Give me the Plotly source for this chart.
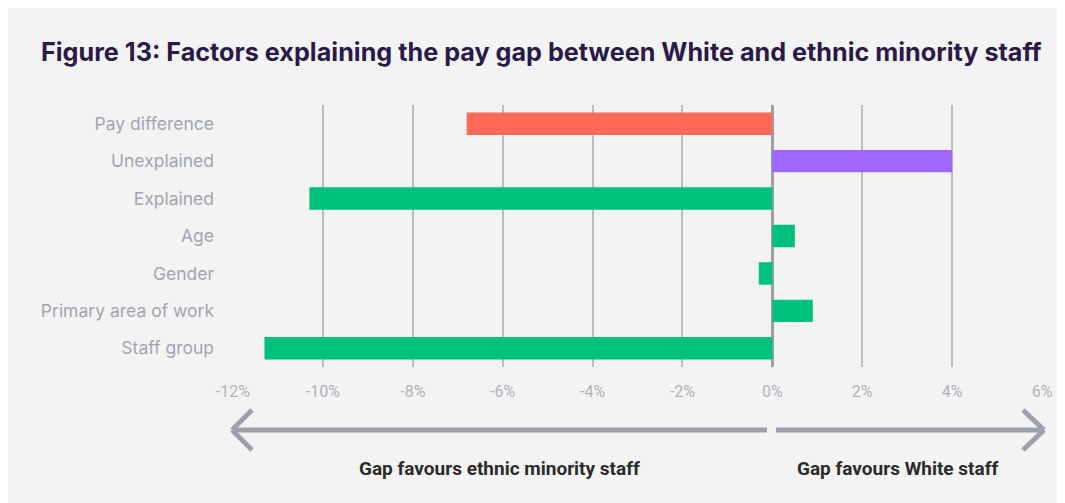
import plotly.graph_objects as go

categories = ["Pay difference", "Unexplained", "Explained", "Age", "Gender",
              "Primary area of work", "Staff group"]
values = [-6.8, 4.0, -10.3, 0.5, -0.3, 0.9, -11.3]
colors = ["#ff6a58", "#9f67fe", "#00c17b", "#00c17b", "#00c17b", "#00c17b", "#00c17b"]
tick_vals = [-12, -10, -8, -6, -4, -2, 0, 2, 4, 6]
tick_text = ["-12%", "-10%", "-8%", "-6%", "-4%", "-2%", "0%", "2%", "4%", "6%"]
title = "Figure 13: Factors explaining the pay gap between White and ethnic minority staff"
left_label = "Gap favours ethnic minority staff"
right_label = "Gap favours White staff"

W, H = 1065, 503
OX, OY = 8, 8  # page body margin offset
L, R, T, B = 233 - OX, 1042 - OX, 105 - OY, 367 - OY
PW, PH = R - L, B - T

def py(px):
    return (B - (px - OY)) / PH

def pxx(px):
    return ((px - OX) - L) / PW

BG = "#f3f3f3"
ARROW = "#9ea1ab"

fig = go.Figure(go.Bar(
    y=categories, x=values, orientation="h",
    marker=dict(color=colors, line=dict(width=0)),
    width=0.6,
))

arrow_y = py(430)
line_style = dict(color=ARROW, width=5)
shapes = [
    dict(type="line", xref="paper", yref="paper", x0=pxx(233), x1=pxx(767), y0=arrow_y, y1=arrow_y, line=line_style),
    dict(type="line", xref="paper", yref="paper", x0=pxx(232), x1=pxx(252), y0=arrow_y, y1=py(410), line=line_style),
    dict(type="line", xref="paper", yref="paper", x0=pxx(232), x1=pxx(252), y0=arrow_y, y1=py(450), line=line_style),
    dict(type="line", xref="paper", yref="paper", x0=pxx(776), x1=pxx(1043), y0=arrow_y, y1=arrow_y, line=line_style),
    dict(type="line", xref="paper", yref="paper", x0=pxx(1044), x1=pxx(1023), y0=arrow_y, y1=py(410), line=line_style),
    dict(type="line", xref="paper", yref="paper", x0=pxx(1044), x1=pxx(1023), y0=arrow_y, y1=py(450), line=line_style),
]

annotations = [
    dict(text=f"<b>{left_label}</b>", xref="paper", yref="paper", x=pxx(499), y=py(468),
         showarrow=False, font=dict(family="Roboto", size=19, color="#2b2b2b"),
         xanchor="center", yanchor="middle"),
    dict(text=f"<b>{right_label}</b>", xref="paper", yref="paper", x=pxx(898), y=py(468),
         showarrow=False, font=dict(family="Roboto", size=19, color="#2b2b2b"),
         xanchor="center", yanchor="middle"),
]

fig.update_layout(
    width=W, height=H,
    margin=dict(l=L, r=W - R, t=T, b=H - B, pad=0),
    paper_bgcolor=BG, plot_bgcolor=BG,
    showlegend=False,
    title=dict(text=f"<b>{title}</b>", x=(41 - OX) / W, xanchor="left",
               y=1 - (52 - OY) / H, yanchor="middle",
               xref="container", yref="container",
               font=dict(family="Inter", size=25.2, color="#2a1a47")),
    shapes=shapes, annotations=annotations,
    bargap=0.4,
)
fig.update_xaxes(range=[-12, 6], tickvals=tick_vals, ticktext=tick_text,
                 showgrid=True, gridcolor="#b9bcc4", gridwidth=1.5,
                 zeroline=True, zerolinecolor="#9a9ea8", zerolinewidth=3,
                 showline=False, ticks="", ticklabelstandoff=13,
                 tickfont=dict(family="Roboto", size=16, color="#afb2ba"))
fig.update_yaxes(autorange="reversed", showgrid=False, showline=False, ticks="",
                 ticklabelstandoff=18,
                 tickfont=dict(family="Inter", size=17.5, color="#a2a5af"))

fig.write_html("out.html")
